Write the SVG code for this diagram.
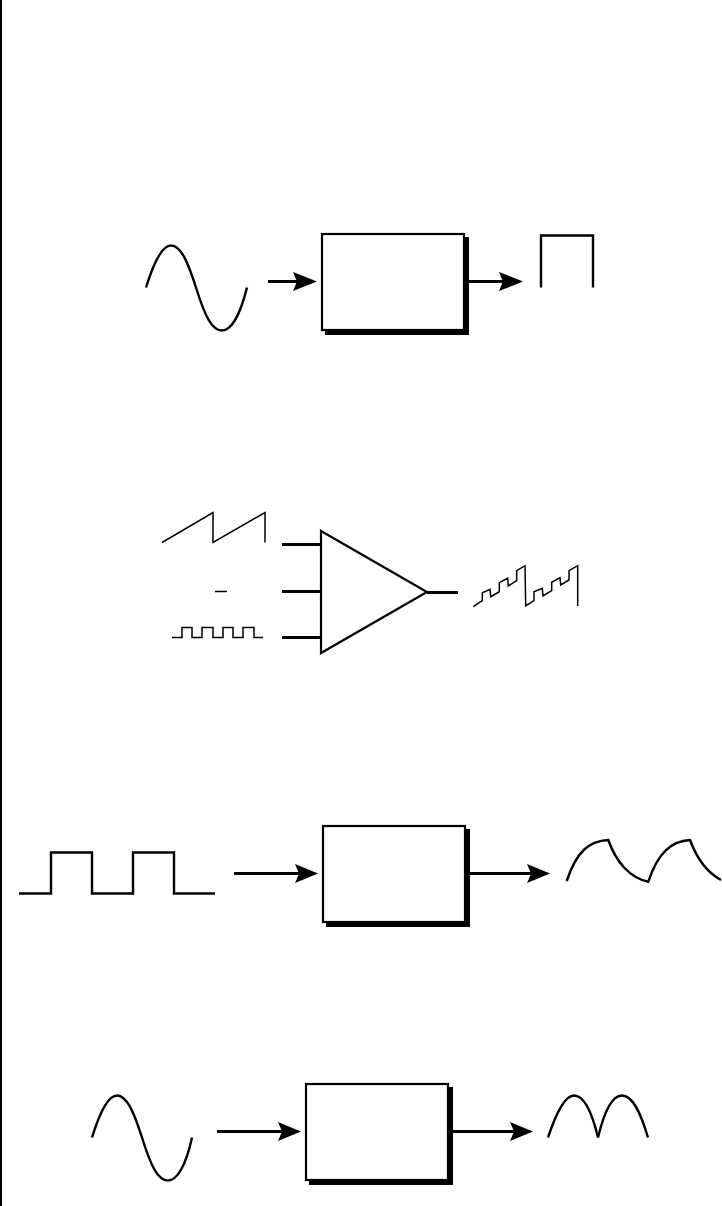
<svg xmlns="http://www.w3.org/2000/svg" width="722" height="1206" viewBox="0 0 722 1206">
<style>
.box{fill:#fff;stroke:#000;stroke-width:2.2}
.sh{fill:#000}
.w2{fill:none;stroke:#000;stroke-width:2.4}
.w1{fill:none;stroke:#000;stroke-width:1.5}
.c{fill:none;stroke:#000;stroke-width:3}
.h{fill:#000}
</style>
<rect width="722" height="1206" fill="#fff"/>
<rect id="edge" x="0" y="0" width="2" height="1206" fill="#000"/>
<g id="connectors">
<path class="c" d="M268 281.500H300"/><path class="h" d="M317 281.500L293 272L297 281.500L293 291Z"/>
<path class="c" d="M469 281.500H505"/><path class="h" d="M523 281.500L499 272L503 281.500L499 291Z"/>
<path class="c" d="M282 544.500H321M282 591.500H321M282 637.500H321M427 592.500H458"/>
<path class="c" d="M234 873.500H300"/><path class="h" d="M318 873.500L295 864L299 873.500L295 883Z"/>
<path class="c" d="M470 873.500H532"/><path class="h" d="M550 873.500L527 864L531 873.500L527 883Z"/>
<path class="c" d="M217 1131.500H285"/><path class="h" d="M301 1131.500L278 1122L282 1131.500L278 1141Z"/>
<path class="c" d="M453 1131.500H516"/><path class="h" d="M533 1131.500L510 1122L514 1131.500L510 1141Z"/>
</g>
<g id="block1"><rect class="sh" x="325" y="237" width="144" height="98"/><rect class="box" x="322" y="234" width="142" height="96"/></g>
<g id="block2"><path class="box" d="M321 531L427 592L321 653Z"/></g>
<g id="block3"><rect class="sh" x="326" y="829" width="144" height="98"/><rect class="box" x="323" y="826" width="142" height="96"/></g>
<g id="block4"><rect class="sh" x="309" y="1087" width="144" height="98"/><rect class="box" x="306" y="1084" width="142" height="96"/></g>
<g id="waves">
<path class="w2" d="M146 287.500C155 258.500 163 245.500 171 245.500C181 245.500 188 262.500 196 287.500C205 316.500 212 330.500 222 330.500C231 330.500 240 315.500 247 287.500"/>
<path class="w2" d="M541 287.500V235.500H593V287.500"/>
<path class="w1" d="M162 542.500L213 512.500V542.500L265 512.500V542.500"/>
<path class="w1" d="M215 591.500H227"/>
<path class="w1" d="M172 637.500H182V627.500H192V637.500H202V627.500H213V637.500H223V627.500H233V637.500H243V627.500H254V637.500H263"/>
<path class="w1" d="M473.300 606.700L482.300 600.700V592.700L490 589.300L490.700 596.700L499.300 591.700V582.700L507.700 578.300L508.300 586L516.700 580.700V570.700L525 565.700L525.700 606L534 600.700V591.700L542.300 588.300L543 596L551.700 590.700V582.300L560 577.700L560.700 585L569 580V570.700L577.700 565.700V606"/>
<path class="w2" d="M19 893.500H51V852.500H92V893.500H133V852.500H174V893.500H215"/>
<path class="w2" d="M566.700 881C577 850 590 841 608.300 840C616 862 630 878 648.300 881.700C658 852 672 841 690 840C697 859 708 873 721 880"/>
<path class="w2" d="M92 1137.500C101 1108.500 109 1095.500 117 1095.500C127 1095.500 134 1112.500 142 1137.500C151 1166.500 158 1180.500 168 1180.500C177 1180.500 186 1165.500 192 1137.500"/>
<path class="w2" d="M548 1137.500C557 1110.500 566 1095.500 574 1095.500C584 1095.500 592 1112.500 598 1137.500C604 1112.500 612 1095.500 622 1095.500C632 1095.500 640 1110.500 648 1137.500"/>
</g>
</svg>
